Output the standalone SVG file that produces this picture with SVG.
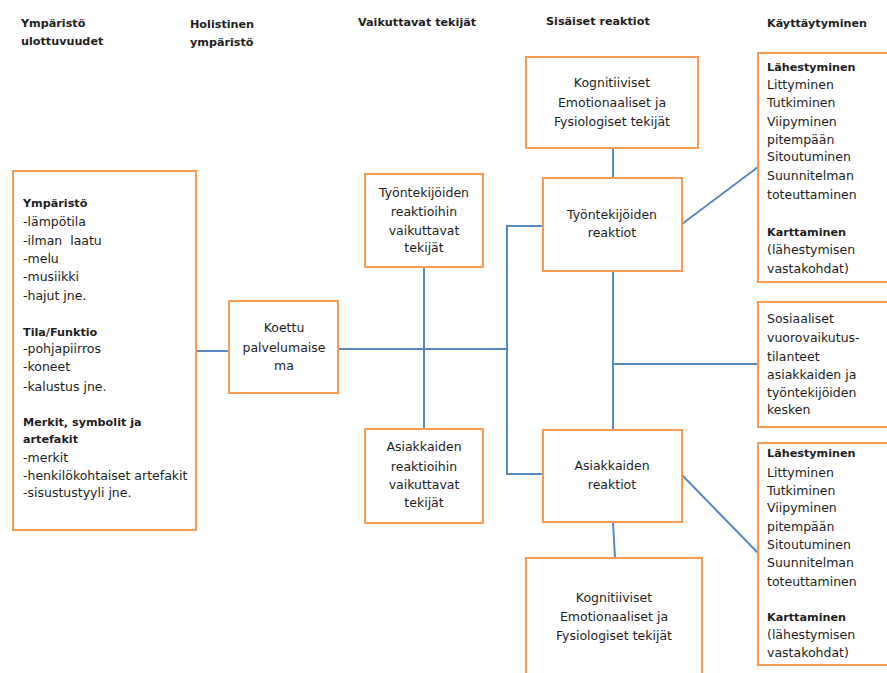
<svg xmlns="http://www.w3.org/2000/svg" width="887" height="673" viewBox="0 0 887 673">
<style>
.box{fill:#fff;stroke:#F79B55;stroke-width:2}
.ln{fill:none;stroke:#5A88C2;stroke-width:2}
text{font-family:"DejaVu Sans","Liberation Sans",sans-serif;font-size:12.5px;fill:#1e1e1e}
.b{font-weight:bold;font-size:11.2px}
.c{text-anchor:middle}
</style>
<rect width="887" height="673" fill="#fff"/>
<g id="headers">
<text class="b" x="21" y="27">Ympäristö</text>
<text class="b" x="21" y="45">ulottuvuudet</text>
<text class="b" x="190" y="28">Holistinen</text>
<text class="b" x="190" y="46">ympäristö</text>
<text class="b" x="358" y="26">Vaikuttavat tekijät</text>
<text class="b" x="546" y="25">Sisäiset reaktiot</text>
<text class="b" x="767" y="27">Käyttäytyminen</text>
</g>
<g id="connectors">
<line class="ln" x1="196" y1="351" x2="229" y2="351"/>
<line class="ln" x1="338" y1="349" x2="507" y2="349"/>
<line class="ln" x1="424" y1="267" x2="424" y2="429"/>
<polyline class="ln" points="543,226 507,226 507,474 543,474"/>
<line class="ln" x1="613" y1="148" x2="613" y2="178"/>
<line class="ln" x1="613" y1="271" x2="613" y2="430"/>
<line class="ln" x1="613" y1="364" x2="758" y2="364"/>
<line class="ln" x1="613" y1="522" x2="615" y2="558"/>
<line class="ln" x1="682" y1="224" x2="758" y2="167"/>
<line class="ln" x1="682" y1="475" x2="758" y2="553"/>
</g>
<g id="ymparisto">
<rect class="box" x="13" y="171" width="183" height="359"/>
<text class="b" x="23" y="207">Ympäristö</text>
<text x="23" y="226">-lämpötila</text>
<text x="23" y="245" xml:space="preserve">-ilman  laatu</text>
<text x="23" y="263">-melu</text>
<text x="23" y="281">-musiikki</text>
<text x="23" y="300">-hajut jne.</text>
<text class="b" x="23" y="336">Tila/Funktio</text>
<text x="23" y="353">-pohjapiirros</text>
<text x="23" y="371">-koneet</text>
<text x="23" y="391">-kalustus jne.</text>
<text class="b" x="23" y="426">Merkit, symbolit ja</text>
<text class="b" x="23" y="443">artefakit</text>
<text x="23" y="462">-merkit</text>
<text x="23" y="480">-henkilökohtaiset artefakit</text>
<text x="23" y="497">-sisustustyyli jne.</text>
</g>
<g id="koettu">
<rect class="box" x="229" y="301" width="109" height="92"/>
<text class="c" x="284" y="332">Koettu</text>
<text class="c" x="284" y="352">palvelumaise</text>
<text class="c" x="284" y="370">ma</text>
</g>
<g id="tyontekijoiden-tekijat">
<rect class="box" x="365" y="174" width="118" height="93"/>
<text class="c" x="424" y="197">Työntekijöiden</text>
<text class="c" x="424" y="216">reaktioihin</text>
<text class="c" x="424" y="235">vaikuttavat</text>
<text class="c" x="424" y="252">tekijät</text>
</g>
<g id="asiakkaiden-tekijat">
<rect class="box" x="365" y="429" width="118" height="94"/>
<text class="c" x="424" y="451">Asiakkaiden</text>
<text class="c" x="424" y="471">reaktioihin</text>
<text class="c" x="424" y="489">vaikuttavat</text>
<text class="c" x="424" y="507">tekijät</text>
</g>
<g id="kognitiiviset-top">
<rect class="box" x="526" y="57" width="172" height="91"/>
<text class="c" x="612" y="87">Kognitiiviset</text>
<text class="c" x="612" y="107">Emotionaaliset ja</text>
<text class="c" x="612" y="126">Fysiologiset tekijät</text>
</g>
<g id="tyontekijoiden-reaktiot">
<rect class="box" x="543" y="178" width="139" height="93"/>
<text class="c" x="612" y="219">Työntekijöiden</text>
<text class="c" x="612" y="237">reaktiot</text>
</g>
<g id="asiakkaiden-reaktiot">
<rect class="box" x="543" y="430" width="139" height="92"/>
<text class="c" x="612" y="470">Asiakkaiden</text>
<text class="c" x="612" y="489">reaktiot</text>
</g>
<g id="kognitiiviset-bottom">
<rect class="box" x="526" y="558" width="176" height="130"/>
<text class="c" x="614" y="602">Kognitiiviset</text>
<text class="c" x="614" y="621">Emotionaaliset ja</text>
<text class="c" x="614" y="640">Fysiologiset tekijät</text>
</g>
<g id="kayttaytyminen-top">
<rect class="box" x="758" y="53" width="140" height="229"/>
<text class="b" x="767" y="71">Lähestyminen</text>
<text x="767" y="89">Littyminen</text>
<text x="767" y="107">Tutkiminen</text>
<text x="767" y="126">Viipyminen</text>
<text x="767" y="144">pitempään</text>
<text x="767" y="161">Sitoutuminen</text>
<text x="767" y="180">Suunnitelman</text>
<text x="767" y="199">toteuttaminen</text>
<text class="b" x="767" y="236">Karttaminen</text>
<text x="767" y="254">(lähestymisen</text>
<text x="767" y="273">vastakohdat)</text>
</g>
<g id="sosiaaliset">
<rect class="box" x="758" y="302" width="140" height="125"/>
<text x="767" y="323">Sosiaaliset</text>
<text x="767" y="342">vuorovaikutus-</text>
<text x="767" y="361">tilanteet</text>
<text x="767" y="379">asiakkaiden ja</text>
<text x="767" y="397">työntekijöiden</text>
<text x="767" y="414">kesken</text>
</g>
<g id="kayttaytyminen-bottom">
<rect class="box" x="758" y="443" width="140" height="222"/>
<text class="b" x="767" y="457">Lähestyminen</text>
<text x="767" y="477">Littyminen</text>
<text x="767" y="495">Tutkiminen</text>
<text x="767" y="512">Viipyminen</text>
<text x="767" y="531">pitempään</text>
<text x="767" y="549">Sitoutuminen</text>
<text x="767" y="567">Suunnitelman</text>
<text x="767" y="586">toteuttaminen</text>
<text class="b" x="767" y="621">Karttaminen</text>
<text x="767" y="639">(lähestymisen</text>
<text x="767" y="657">vastakohdat)</text>
</g>
</svg>
